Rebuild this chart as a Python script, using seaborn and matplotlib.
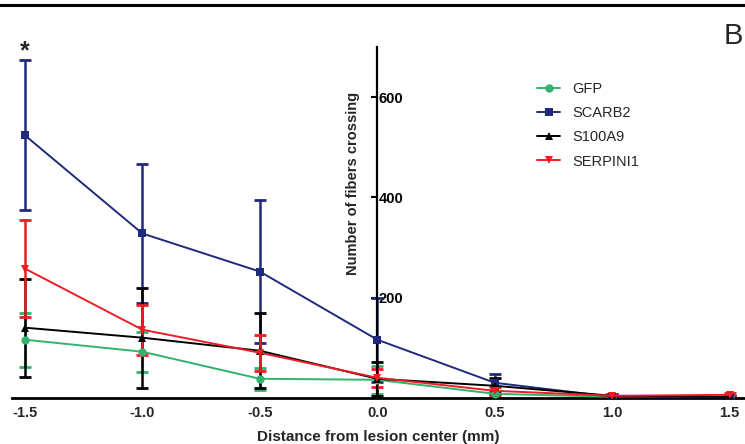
import numpy as np
import pandas as pd
import matplotlib.pyplot as plt
import seaborn as sns
from matplotlib.lines import Line2D

distance = [-1.5, -1.0, -0.5, 0.0, 0.5, 1.0, 1.5]
groups = ["GFP", "SCARB2", "S100A9", "SERPINI1"]

gfp = [116, 92, 38, 36, 8, 2, 2]
gfp_err = [54, 40, 22, 28, 6, 2, 2]
scarb2 = [524, 328, 252, 116, 30, 2, 0]
scarb2_err = [150, 138, 142, 84, 18, 3, 2]
s100a9 = [140, 120, 94, 38, 24, 4, 2]
s100a9_err = [98, 100, 75, 34, 16, 3, 2]
serpini1 = [258, 136, 90, 40, 14, 4, 6]
serpini1_err = [96, 50, 36, 18, 8, 3, 3]

colors = {"GFP": "#2fb36d", "SCARB2": "#1f2a7c", "S100A9": "#000000", "SERPINI1": "#ee1c24"}
markers = {"GFP": "o", "SCARB2": "s", "S100A9": "^", "SERPINI1": "v"}

means = {"GFP": gfp, "SCARB2": scarb2, "S100A9": s100a9, "SERPINI1": serpini1}
errs = {"GFP": gfp_err, "SCARB2": scarb2_err, "S100A9": s100a9_err, "SERPINI1": serpini1_err}

df = pd.DataFrame({
    "distance": distance * 4,
    "fibers": gfp + scarb2 + s100a9 + serpini1,
    "group": [g for g in groups for _ in distance],
})

sns.set_style("white")
plt.rcParams["font.family"] = ["Liberation Sans", "DejaVu Sans"]

fig = plt.figure(figsize=(7.45, 4.44), dpi=100)
ax = fig.add_axes([0.016, 0.104, 0.984, 0.79])

for g in groups:
    ax.errorbar(distance, means[g], yerr=errs[g], fmt="none", ecolor=colors[g],
                elinewidth=1.8, capsize=4, capthick=2, zorder=2)

sns.lineplot(data=df, x="distance", y="fibers", hue="group", style="group",
             hue_order=groups, style_order=groups, palette=colors, markers=markers,
             dashes=False, markersize=6, markeredgewidth=0, linewidth=1.4,
             ax=ax, zorder=3, legend=False)

ax.set_xlim(-1.555, 1.565)
ax.set_ylim(0, 700)

# y axis drawn at x = 0, ticks pointing left, labels on the right
ax.spines["left"].set_visible(False)
ax.spines["top"].set_visible(False)
ax.spines["right"].set_position(("data", 0))
ax.spines["right"].set_linewidth(1.6)
ax.spines["right"].set_color("black")
ax.spines["bottom"].set_linewidth(2)
ax.spines["bottom"].set_color("black")
ax.yaxis.tick_right()
ax.set_yticks([200, 400, 600])
ax.tick_params(axis="y", direction="in", length=4, width=1.5, pad=1,
               labelsize=10.5, colors="black")
for lab in ax.get_yticklabels():
    lab.set_fontweight("bold")

ax.set_xticks(distance)
ax.set_xticklabels(["-1.5", "-1.0", "-0.5", "0.0", "0.5", "1.0", "1.5"])
ax.tick_params(axis="x", length=0, pad=6, labelsize=10.5)
for lab in ax.get_xticklabels():
    lab.set_fontweight("bold")

ax.set_xlabel("Distance from lesion center (mm)", fontsize=11, fontweight="bold", labelpad=7)
ax.set_ylabel("Number of fibers crossing", fontsize=10.5, fontweight="bold")
ax.yaxis.set_label_position("left")
ax.yaxis.set_label_coords(0.475, 0.61)

ax.text(-1.5, 668, "*", ha="center", va="bottom", fontsize=18, fontweight="bold")

handles = [Line2D([0], [0], color=colors[g], marker=markers[g], markersize=6,
                  markeredgewidth=0, linewidth=1.4) for g in groups]
fig.legend(handles, groups, loc="upper left", bbox_to_anchor=(0.703, 0.845),
           frameon=False, fontsize=10.5, handlelength=1.6, labelspacing=0.7,
           handletextpad=0.8)

fig.add_artist(Line2D([0, 1], [0.988, 0.988], transform=fig.transFigure,
                      color="black", linewidth=2.2))
fig.text(0.984, 0.918, "B", ha="center", va="center", fontsize=21)

fig.savefig("out.png", dpi=100)
